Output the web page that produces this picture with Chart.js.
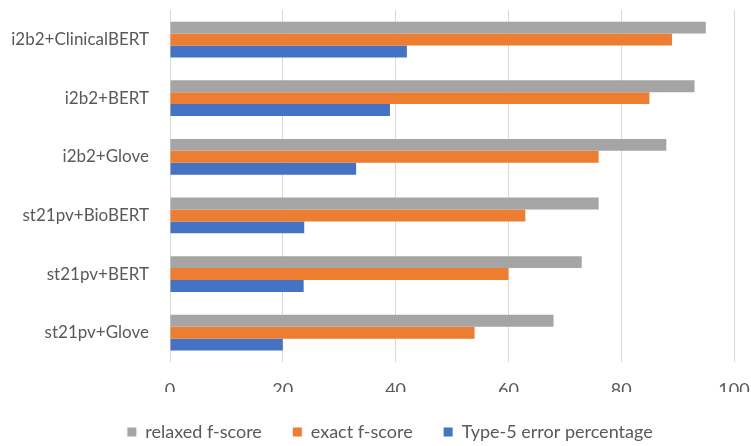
<!DOCTYPE html>
<html>
<head>
<meta charset="utf-8">
<script src="https://cdn.jsdelivr.net/npm/chart.js@4"></script>
<style>
  html, body { margin: 0; padding: 0; background: #ffffff; }
  #wrap { width: 751px; height: 446px; position: relative; }
</style>
</head>
<body>
<div id="wrap"><canvas id="chart"></canvas></div>
<script>
// Model / embedding combinations (top to bottom)
const categories = [
  'i2b2+ClinicalBERT',
  'i2b2+BERT',
  'i2b2+Glove',
  'st21pv+BioBERT',
  'st21pv+BERT',
  'st21pv+Glove'
];

// Scores per combination
const relaxedFScore = [95, 93, 88, 76, 73, 68];
const exactFScore = [89, 85, 76, 63, 60, 54];
const type5ErrorPct = [42, 39, 33, 23.8, 23.7, 20];

// Value axis
const xMin = 0;
const xMax = 100;
const xStep = 20;

const textColor = '#595959';
const fontFamily = "Lato, 'Open Sans', sans-serif";

// Nudge the legend row so it sits centred under the whole chart body
const legendShift = {
  id: 'legendShift',
  afterLayout(chart) {
    const lg = chart.legend;
    if (lg) { lg.left += 23; lg.right += 23; }
  }
};

new Chart(document.getElementById('chart'), {
  type: 'bar',
  data: {
    labels: categories,
    datasets: [
      { label: 'relaxed f-score', data: relaxedFScore, backgroundColor: '#A5A5A5' },
      { label: 'exact f-score', data: exactFScore, backgroundColor: '#ED7D31' },
      { label: 'Type-5 error percentage', data: type5ErrorPct, backgroundColor: '#4472C4' }
    ]
  },
  plugins: [legendShift],
  options: {
    indexAxis: 'y',
    responsive: true,
    maintainAspectRatio: false,
    animation: false,
    datasets: {
      bar: { categoryPercentage: 0.61, barPercentage: 1.0, borderWidth: 0 }
    },
    layout: { padding: { left: 0, right: 17, top: 0, bottom: -5 } },
    scales: {
      x: {
        min: xMin,
        max: xMax,
        ticks: {
          stepSize: xStep,
          padding: 0,
          color: textColor,
          font: { family: fontFamily, size: 18 }
        },
        grid: { color: '#D9D9D9', lineWidth: 1, drawTicks: true, tickLength: 17, tickColor: 'rgba(0,0,0,0)' },
        border: { display: false },
        afterFit: (scale) => { scale.height = 30; }
      },
      y: {
        ticks: {
          padding: 0,
          color: textColor,
          font: { family: fontFamily, size: 17 }
        },
        grid: { display: false, drawTicks: true, tickLength: 21 },
        border: { display: false },
        afterFit: (scale) => { scale.width = 170; }
      }
    },
    plugins: {
      legend: {
        position: 'bottom',
        labels: {
          boxWidth: 9,
          boxHeight: 9,
          padding: 31,
          color: textColor,
          font: { family: fontFamily, size: 18 }
        }
      },
      tooltip: { enabled: false }
    }
  }
});
</script>
</body>
</html>
